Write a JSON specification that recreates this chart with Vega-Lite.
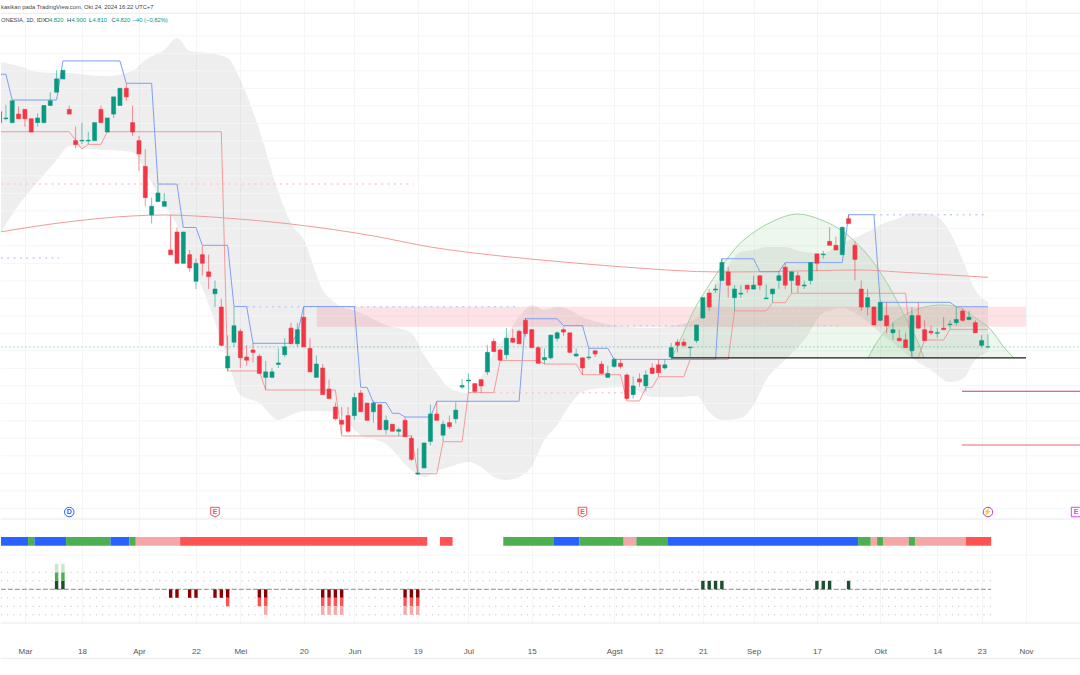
{"$schema":"https://vega.github.io/schema/vega-lite/v6.json","padding":0,"spacing":0,"background":"white","config":{"view":{"stroke":null},"font":"Liberation Sans","axisY":{"disable":true},"scale":{"continuousPadding":0}},
"datasets":{"candles":[
{"i":-1,"o":6255,"h":6325,"l":6255,"c":6325},{"i":0,"o":6280,"h":6370,"l":6270,"c":6285},{"i":1,"o":6255,"h":6395,"l":6255,"c":6395},{"i":2,"o":6310,"h":6360,"l":6280,"c":6280},{"i":3,"o":6340,"h":6340,"l":6230,"c":6280},{"i":4,"o":6280,"h":6280,"l":6195,"c":6195},{"i":5,"o":6255,"h":6315,"l":6230,"c":6285},{"i":6,"o":6255,"h":6365,"l":6255,"c":6365},{"i":7,"o":6365,"h":6450,"l":6365,"c":6395},{"i":8,"o":6450,"h":6590,"l":6450,"c":6535},{"i":9,"o":6535,"h":6590,"l":6535,"c":6590},{"i":10,"o":6340,"h":6365,"l":6310,"c":6310},{"i":11,"o":6140,"h":6230,"l":6090,"c":6115},{"i":12,"o":6138,"h":6255,"l":6118,"c":6142},{"i":13,"o":6138,"h":6197,"l":6118,"c":6142},{"i":14,"o":6140,"h":6255,"l":6140,"c":6255},{"i":15,"o":6340,"h":6365,"l":6255,"c":6255},{"i":16,"o":6195,"h":6285,"l":6195,"c":6285},{"i":17,"o":6310,"h":6420,"l":6285,"c":6420},{"i":18,"o":6365,"h":6475,"l":6365,"c":6475},{"i":19,"o":6475,"h":6505,"l":6395,"c":6420},{"i":20,"o":6255,"h":6365,"l":6170,"c":6195},{"i":21,"o":6140,"h":6170,"l":5945,"c":6055},{"i":22,"o":5975,"h":6085,"l":5720,"c":5775},{"i":23,"o":5665,"h":5775,"l":5610,"c":5720},{"i":24,"o":5750,"h":5860,"l":5750,"c":5805},{"i":25,"o":5720,"h":5805,"l":5720,"c":5750},{"i":26,"o":5440,"h":5665,"l":5410,"c":5410},{"i":27,"o":5555,"h":5585,"l":5355,"c":5355},{"i":28,"o":5355,"h":5555,"l":5355,"c":5555},{"i":29,"o":5410,"h":5440,"l":5300,"c":5325},{"i":30,"o":5240,"h":5385,"l":5190,"c":5355},{"i":31,"o":5410,"h":5465,"l":5275,"c":5355},{"i":32,"o":5300,"h":5410,"l":5190,"c":5270},{"i":33,"o":5160,"h":5245,"l":5075,"c":5190},{"i":34,"o":5075,"h":5130,"l":4825,"c":4830},{"i":35,"o":4685,"h":4895,"l":4665,"c":4760},{"i":36,"o":4850,"h":5075,"l":4820,"c":4955},{"i":37,"o":4920,"h":4935,"l":4685,"c":4750},{"i":38,"o":4755,"h":4830,"l":4700,"c":4735},{"i":39,"o":4800,"h":4845,"l":4720,"c":4785},{"i":40,"o":4760,"h":4775,"l":4650,"c":4650},{"i":41,"o":4625,"h":4730,"l":4545,"c":4660},{"i":42,"o":4625,"h":4685,"l":4625,"c":4660},{"i":43,"o":4708,"h":4810,"l":4685,"c":4717},{"i":44,"o":4770,"h":4875,"l":4755,"c":4820},{"i":45,"o":4940,"h":4975,"l":4840,"c":4840},{"i":46,"o":4840,"h":4975,"l":4820,"c":4930},{"i":47,"o":5010,"h":5075,"l":4820,"c":4820},{"i":48,"o":4810,"h":4875,"l":4660,"c":4660},{"i":49,"o":4625,"h":4765,"l":4625,"c":4710},{"i":50,"o":4685,"h":4710,"l":4515,"c":4515},{"i":51,"o":4550,"h":4610,"l":4485,"c":4490},{"i":52,"o":4435,"h":4465,"l":4350,"c":4360},{"i":53,"o":4350,"h":4435,"l":4265,"c":4325},{"i":54,"o":4380,"h":4435,"l":4270,"c":4280},{"i":55,"o":4380,"h":4525,"l":4350,"c":4495},{"i":56,"o":4525,"h":4545,"l":4405,"c":4405},{"i":57,"o":4460,"h":4460,"l":4350,"c":4350},{"i":58,"o":4405,"h":4475,"l":4335,"c":4460},{"i":59,"o":4450,"h":4450,"l":4290,"c":4290},{"i":60,"o":4290,"h":4380,"l":4260,"c":4350},{"i":61,"o":4325,"h":4325,"l":4280,"c":4280},{"i":62,"o":4280,"h":4305,"l":4250,"c":4290},{"i":63,"o":4350,"h":4370,"l":4245,"c":4245},{"i":64,"o":4235,"h":4255,"l":4090,"c":4100},{"i":65,"o":4006,"h":4170,"l":4000,"c":4013},{"i":66,"o":4045,"h":4205,"l":4045,"c":4205},{"i":67,"o":4215,"h":4450,"l":4190,"c":4390},{"i":68,"o":4390,"h":4470,"l":4350,"c":4350},{"i":69,"o":4255,"h":4350,"l":4215,"c":4325},{"i":70,"o":4335,"h":4380,"l":4295,"c":4310},{"i":71,"o":4360,"h":4465,"l":4330,"c":4415},{"i":72,"o":4563,"h":4615,"l":4550,"c":4572},{"i":73,"o":4602,"h":4650,"l":4525,"c":4608},{"i":74,"o":4585,"h":4585,"l":4525,"c":4535},{"i":75,"o":4610,"h":4610,"l":4525,"c":4570},{"i":76,"o":4660,"h":4830,"l":4640,"c":4785},{"i":77,"o":4855,"h":4875,"l":4790,"c":4790},{"i":78,"o":4800,"h":4810,"l":4730,"c":4735},{"i":79,"o":4770,"h":4940,"l":4740,"c":4875},{"i":80,"o":4875,"h":4935,"l":4845,"c":4850},{"i":81,"o":4920,"h":4930,"l":4840,"c":4840},{"i":82,"o":4990,"h":5005,"l":4885,"c":4905},{"i":83,"o":4930,"h":4935,"l":4815,"c":4815},{"i":84,"o":4815,"h":4825,"l":4715,"c":4715},{"i":85,"o":4738,"h":4810,"l":4710,"c":4751},{"i":86,"o":4750,"h":4895,"l":4740,"c":4895},{"i":87,"o":4875,"h":4920,"l":4855,"c":4910},{"i":88,"o":4930,"h":4945,"l":4890,"c":4915},{"i":89,"o":4910,"h":4910,"l":4780,"c":4785},{"i":90,"o":4762,"h":4810,"l":4755,"c":4774},{"i":91,"o":4750,"h":4750,"l":4640,"c":4685},{"i":92,"o":4751,"h":4810,"l":4735,"c":4755},{"i":93,"o":4795,"h":4795,"l":4755,"c":4775},{"i":94,"o":4710,"h":4730,"l":4650,"c":4650},{"i":95,"o":4625,"h":4700,"l":4625,"c":4650},{"i":96,"o":4695,"h":4750,"l":4685,"c":4740},{"i":97,"o":4715,"h":4740,"l":4680,"c":4695},{"i":98,"o":4640,"h":4650,"l":4485,"c":4490},{"i":99,"o":4515,"h":4630,"l":4490,"c":4570},{"i":100,"o":4615,"h":4650,"l":4565,"c":4595},{"i":101,"o":4570,"h":4670,"l":4535,"c":4640},{"i":102,"o":4685,"h":4715,"l":4650,"c":4650},{"i":103,"o":4705,"h":4740,"l":4630,"c":4655},{"i":104,"o":4685,"h":4740,"l":4675,"c":4705},{"i":105,"o":4755,"h":4845,"l":4740,"c":4815},{"i":106,"o":4850,"h":4870,"l":4785,"c":4830},{"i":107,"o":4850,"h":4873,"l":4817,"c":4830},{"i":108,"o":4815,"h":4819,"l":4747,"c":4819},{"i":109,"o":4860,"h":4960,"l":4845,"c":4960},{"i":110,"o":5005,"h":5135,"l":5000,"c":5135},{"i":111,"o":5165,"h":5190,"l":5050,"c":5075},{"i":112,"o":5184,"h":5220,"l":5165,"c":5190},{"i":113,"o":5245,"h":5385,"l":5245,"c":5360},{"i":114,"o":5300,"h":5330,"l":5135,"c":5215},{"i":115,"o":5135,"h":5215,"l":5050,"c":5190},{"i":116,"o":5158,"h":5215,"l":5135,"c":5163},{"i":117,"o":5215,"h":5215,"l":5165,"c":5190},{"i":118,"o":5190,"h":5275,"l":5190,"c":5215},{"i":119,"o":5275,"h":5275,"l":5185,"c":5215},{"i":120,"o":5128,"h":5220,"l":5128,"c":5133},{"i":121,"o":5160,"h":5190,"l":5105,"c":5190},{"i":122,"o":5245,"h":5305,"l":5190,"c":5275},{"i":123,"o":5330,"h":5360,"l":5190,"c":5215},{"i":124,"o":5245,"h":5300,"l":5165,"c":5300},{"i":125,"o":5275,"h":5300,"l":5165,"c":5215},{"i":126,"o":5210,"h":5245,"l":5190,"c":5216},{"i":127,"o":5245,"h":5360,"l":5220,"c":5360},{"i":128,"o":5415,"h":5415,"l":5305,"c":5355},{"i":129,"o":5410,"h":5435,"l":5385,"c":5414},{"i":130,"o":5495,"h":5585,"l":5470,"c":5470},{"i":131,"o":5470,"h":5525,"l":5440,"c":5440},{"i":132,"o":5410,"h":5590,"l":5410,"c":5585},{"i":133,"o":5640,"h":5665,"l":5610,"c":5610},{"i":134,"o":5470,"h":5495,"l":5245,"c":5380},{"i":135,"o":5190,"h":5245,"l":5050,"c":5075},{"i":136,"o":5075,"h":5190,"l":5020,"c":5135},{"i":137,"o":5075,"h":5080,"l":4960,"c":4960},{"i":138,"o":4990,"h":5105,"l":4985,"c":5105},{"i":139,"o":5020,"h":5105,"l":4905,"c":4955},{"i":140,"o":4910,"h":4975,"l":4865,"c":4930},{"i":141,"o":4875,"h":4930,"l":4855,"c":4860},{"i":142,"o":4865,"h":4910,"l":4815,"c":4815},{"i":143,"o":4795,"h":5075,"l":4750,"c":5020},{"i":144,"o":5020,"h":5105,"l":4935,"c":4940},{"i":145,"o":4930,"h":4990,"l":4860,"c":4860},{"i":146,"o":4920,"h":4955,"l":4895,"c":4910},{"i":147,"o":4907,"h":4940,"l":4880,"c":4911},{"i":148,"o":4940,"h":5010,"l":4930,"c":4930},{"i":149,"o":4962,"h":4990,"l":4935,"c":4966},{"i":150,"o":4975,"h":5075,"l":4955,"c":4995},{"i":151,"o":5050,"h":5065,"l":4980,"c":4990},{"i":152,"o":4995,"h":5050,"l":4990,"c":5010},{"i":153,"o":4975,"h":4990,"l":4910,"c":4910},{"i":154,"o":4830,"h":4895,"l":4815,"c":4860},{"i":155,"o":4820,"h":4900,"l":4810,"c":4820}
]},
"vconcat":[
{"width":1080,"height":518,"layer":[
{"data":{"values":[
{"i":-1,"up":6643,"lo":5536},{"i":2,"up":6618,"lo":5728},{"i":5,"up":6579,"lo":5875},{"i":8,"up":6573,"lo":6016},{"i":10,"up":6573,"lo":6106},{"i":13,"up":6560,"lo":6086},{"i":16,"up":6554,"lo":6080},{"i":20,"up":6586,"lo":6067},{"i":22,"up":6656,"lo":5939},{"i":25,"up":6720,"lo":5728},{"i":27,"up":6797,"lo":5600},{"i":29,"up":6714,"lo":5389},{"i":32,"up":6701,"lo":5094},{"i":35,"up":6669,"lo":4736},{"i":37,"up":6528,"lo":4512},{"i":40,"up":6208,"lo":4461},{"i":43,"up":5811,"lo":4352},{"i":45,"up":5613,"lo":4384},{"i":47,"up":5504,"lo":4410},{"i":50,"up":5184,"lo":4410},{"i":52,"up":5101,"lo":4403},{"i":56,"up":5037,"lo":4256},{"i":60,"up":4960,"lo":4198},{"i":64,"up":4909,"lo":4032},{"i":66,"up":4768,"lo":3987},{"i":68,"up":4653,"lo":4026},{"i":70,"up":4557,"lo":4051},{"i":73,"up":4525,"lo":4083},{"i":75,"up":4627,"lo":4051},{"i":77,"up":4787,"lo":3987},{"i":79,"up":4896,"lo":3968},{"i":81,"up":5011,"lo":3987},{"i":83,"up":5088,"lo":4058},{"i":85,"up":5056,"lo":4224},{"i":87,"up":5075,"lo":4320},{"i":89,"up":5056,"lo":4448},{"i":91,"up":5011,"lo":4531},{"i":94,"up":4973,"lo":4557},{"i":98,"up":4947,"lo":4563},{"i":102,"up":4941,"lo":4499},{"i":106,"up":4960,"lo":4499},{"i":109,"up":5005,"lo":4506},{"i":111,"up":5152,"lo":4403},{"i":113,"up":5280,"lo":4352},{"i":116,"up":5427,"lo":4365},{"i":118,"up":5440,"lo":4448},{"i":120,"up":5459,"lo":4608},{"i":123,"up":5459,"lo":4736},{"i":126,"up":5427,"lo":4864},{"i":129,"up":5421,"lo":5037},{"i":132,"up":5485,"lo":5069},{"i":135,"up":5536,"lo":5011},{"i":138,"up":5600,"lo":4909},{"i":141,"up":5645,"lo":4813},{"i":143,"up":5677,"lo":4749},{"i":146,"up":5670,"lo":4672},{"i":149,"up":5555,"lo":4595},{"i":151,"up":5376,"lo":4614},{"i":153,"up":5184,"lo":4736},{"i":155,"up":5107,"lo":4787}]},
"mark":{"type":"area","color":"#787b86","opacity":0.13,"interpolate":"monotone","clip":true},
"encoding":{"x":{"field":"i","type":"quantitative","scale":{"domain":[-0.773,169.68],"nice":false,"zero":false,"padding":0},"axis":{"title":null,"values":[3,12,21,30,37,47,55,65,73,83,96,103,110,118,128,138,147,154,161],"labels":false,"ticks":false,"domain":false,"grid":true,"gridColor":"#f4f5f6","gridWidth":1}},"y":{"field":"up","type":"quantitative","scale":{"domain":[3724.8,7040],"nice":false,"zero":false}},"y2":{"field":"lo"}}},
{"data":{"values":[{"p":3787},{"p":3899},{"p":4011},{"p":4123},{"p":4235},{"p":4347},{"p":4459},{"p":4571},{"p":4683},{"p":4795},{"p":4907},{"p":5019},{"p":5131},{"p":5243},{"p":5355},{"p":5467},{"p":5579},{"p":5691},{"p":5803},{"p":5915},{"p":6027},{"p":6139},{"p":6251},{"p":6363},{"p":6475},{"p":6587},{"p":6699},{"p":6811}]},"mark":{"type":"rule","color":"#f4f5f6","strokeWidth":1,"clip":true},"encoding":{"y":{"field":"p","type":"quantitative"}}},
{"data":{"values":[{"a":49.05,"b":161,"top":5077,"bot":4949}]},"mark":{"type":"rect","color":"#f23645","opacity":0.14,"clip":true},"encoding":{"x":{"field":"a","type":"quantitative"},"x2":{"field":"b"},"y":{"field":"top","type":"quantitative"},"y2":{"field":"bot"}}},
{"data":{"values":[{"i":105,"p":4749},{"i":106.3,"p":4853},{"i":108.6,"p":5056},{"i":110.2,"p":5165},{"i":112.9,"p":5331},{"i":115.6,"p":5472},{"i":118.1,"p":5555},{"i":120.8,"p":5619},{"i":125,"p":5670},{"i":128.7,"p":5632},{"i":131.3,"p":5581},{"i":133.9,"p":5498},{"i":137,"p":5357},{"i":139.7,"p":5184},{"i":142.4,"p":4973},{"i":144,"p":4845},{"i":144.9,"p":4749}]},"mark":{"type":"area","interpolate":"monotone","color":"#4caf50","opacity":0.1,"line":false,"clip":true},"encoding":{"x":{"field":"i","type":"quantitative"},"y":{"field":"p","type":"quantitative"},"y2":{"datum":4749}}},
{"data":{"values":[{"i":105,"p":4749},{"i":106.3,"p":4853},{"i":108.6,"p":5056},{"i":110.2,"p":5165},{"i":112.9,"p":5331},{"i":115.6,"p":5472},{"i":118.1,"p":5555},{"i":120.8,"p":5619},{"i":125,"p":5670},{"i":128.7,"p":5632},{"i":131.3,"p":5581},{"i":133.9,"p":5498},{"i":137,"p":5357},{"i":139.7,"p":5184},{"i":142.4,"p":4973},{"i":144,"p":4845},{"i":144.9,"p":4749}]},"mark":{"type":"line","interpolate":"monotone","color":"#9fd3a2","strokeWidth":1,"clip":true},"encoding":{"x":{"field":"i","type":"quantitative"},"y":{"field":"p","type":"quantitative"}}},
{"data":{"values":[{"i":136.1,"p":4749},{"i":137,"p":4819},{"i":139.7,"p":4960},{"i":142.4,"p":5037},{"i":145,"p":5075},{"i":147.6,"p":5088},{"i":150.3,"p":5075},{"i":152.8,"p":5011},{"i":155.5,"p":4928},{"i":157.5,"p":4819},{"i":159.1,"p":4749}]},"mark":{"type":"area","interpolate":"monotone","color":"#4caf50","opacity":0.1,"clip":true},"encoding":{"x":{"field":"i","type":"quantitative"},"y":{"field":"p","type":"quantitative"},"y2":{"datum":4749}}},
{"data":{"values":[{"i":136.1,"p":4749},{"i":137,"p":4819},{"i":139.7,"p":4960},{"i":142.4,"p":5037},{"i":145,"p":5075},{"i":147.6,"p":5088},{"i":150.3,"p":5075},{"i":152.8,"p":5011},{"i":155.5,"p":4928},{"i":157.5,"p":4819},{"i":159.1,"p":4749}]},"mark":{"type":"line","interpolate":"monotone","color":"#9fd3a2","strokeWidth":1,"clip":true},"encoding":{"x":{"field":"i","type":"quantitative"},"y":{"field":"p","type":"quantitative"}}},
{"data":{"values":[{"i":-1,"p":5555},{"i":10,"p":5621},{"i":20,"p":5658},{"i":25,"p":5664},{"i":34,"p":5647},{"i":42,"p":5619},{"i":45,"p":5606},{"i":58,"p":5530},{"i":67,"p":5459},{"i":78,"p":5402},{"i":88,"p":5363},{"i":97,"p":5333},{"i":113,"p":5299},{"i":119,"p":5301},{"i":135,"p":5312},{"i":141,"p":5299},{"i":155,"p":5265}]},"mark":{"type":"line","color":"#f29a9a","strokeWidth":1,"interpolate":"monotone","clip":true},"encoding":{"x":{"field":"i","type":"quantitative"},"y":{"field":"p","type":"quantitative"}}},
{"data":{"values":[{"a":-0.8,"b":8.4,"p":5389,"s":"b"},{"a":38,"b":81,"p":5077,"s":"b"},{"a":88,"b":132,"p":4956,"s":"b"},{"a":137,"b":155,"p":5666,"s":"b"},{"a":-0.8,"b":64.3,"p":5862,"s":"r"},{"a":77,"b":98,"p":4527,"s":"r"},{"a":120,"b":155,"p":5050,"s":"r"}]},"mark":{"type":"rule","strokeWidth":1.5,"strokeDash":[2,4.34],"clip":true},"encoding":{"x":{"field":"a","type":"quantitative"},"x2":{"field":"b"},"y":{"field":"p","type":"quantitative"},"color":{"field":"s","type":"nominal","legend":null,"scale":{"domain":["b","r"],"range":["#c3cff8","#fbcaca"]}}}},
{"data":{"values":[{"i":-1,"p":6197},{"i":10,"p":6197},{"i":11,"p":6142},{"i":12,"p":6086},{"i":13,"p":6116},{"i":15,"p":6116},{"i":16,"p":6197},{"i":34,"p":6197},{"i":35,"p":4666},{"i":40,"p":4666},{"i":41,"p":4544},{"i":52,"p":4544},{"i":53,"p":4250},{"i":64,"p":4250},{"i":65,"p":4008},{"i":68,"p":4008},{"i":69,"p":4213},{"i":72,"p":4213},{"i":73,"p":4527},{"i":77,"p":4527},{"i":78,"p":4732},{"i":84,"p":4732},{"i":85,"p":4710},{"i":90,"p":4710},{"i":91,"p":4642},{"i":97,"p":4642},{"i":98,"p":4474},{"i":100,"p":4474},{"i":101,"p":4561},{"i":102,"p":4561},{"i":103,"p":4629},{"i":107,"p":4629},{"i":108,"p":4740},{"i":114,"p":4740},{"i":115,"p":5050},{"i":120,"p":5050},{"i":121,"p":5103},{"i":123,"p":5103},{"i":124,"p":5163},{"i":142,"p":5163},{"i":143,"p":4751},{"i":144,"p":4751},{"i":145,"p":4864},{"i":148,"p":4864},{"i":149,"p":4932},{"i":155,"p":4932}]},"mark":{"type":"line","color":"#f49a9a","strokeWidth":1,"clip":true},"encoding":{"x":{"field":"i","type":"quantitative"},"y":{"field":"p","type":"quantitative"}}},
{"data":{"values":[{"i":-1,"p":6565},{"i":0,"p":6565},{"i":1,"p":6400},{"i":8,"p":6400},{"i":9,"p":6650},{"i":18,"p":6650},{"i":19,"p":6507},{"i":23,"p":6507},{"i":24,"p":5862},{"i":27,"p":5862},{"i":28,"p":5584},{"i":30,"p":5584},{"i":31,"p":5470},{"i":35,"p":5470},{"i":36,"p":5078},{"i":38,"p":5078},{"i":39,"p":4843},{"i":45,"p":4843},{"i":46,"p":4902},{"i":47,"p":5078},{"i":55,"p":5078},{"i":56,"p":4561},{"i":57,"p":4561},{"i":58,"p":4463},{"i":60,"p":4463},{"i":61,"p":4395},{"i":62,"p":4395},{"i":63,"p":4371},{"i":67,"p":4371},{"i":68,"p":4472},{"i":81,"p":4472},{"i":82,"p":5000},{"i":87,"p":5000},{"i":88,"p":4956},{"i":91,"p":4956},{"i":92,"p":4811},{"i":95,"p":4811},{"i":96,"p":4740},{"i":112,"p":4740},{"i":113,"p":5384},{"i":118,"p":5384},{"i":119,"p":5301},{"i":122,"p":5301},{"i":123,"p":5359},{"i":132,"p":5359},{"i":133,"p":5666},{"i":137,"p":5666},{"i":138,"p":5105},{"i":149,"p":5105},{"i":150,"p":5077},{"i":155,"p":5077}]},"mark":{"type":"line","color":"#7f9ff2","strokeWidth":1,"clip":true},"encoding":{"x":{"field":"i","type":"quantitative"},"y":{"field":"p","type":"quantitative"}}},
{"data":{"values":[{"a":-0.8,"b":169.7,"p":4820}]},"mark":{"type":"rule","color":"#089981","opacity":0.35,"strokeWidth":1,"strokeDash":[2,2],"clip":true},"encoding":{"x":{"field":"a","type":"quantitative"},"x2":{"field":"b"},"y":{"field":"p","type":"quantitative"}}},
{"data":{"values":[{"a":105,"b":161,"p":4749,"k":"black"},{"a":150.9,"b":169.7,"p":4536,"k":"crimson"},{"a":150.9,"b":169.7,"p":4192,"k":"coral"},{"a":-0.8,"b":169.7,"p":6955,"k":"sep"}]},"mark":{"type":"rule","strokeWidth":1.2,"clip":true},"encoding":{"x":{"field":"a","type":"quantitative"},"x2":{"field":"b"},"y":{"field":"p","type":"quantitative"},"color":{"field":"k","type":"nominal","legend":null,"scale":{"domain":["black","crimson","coral","sep"],"range":["#1a1a1a","#d6394c","#e86a74","#eeeeee"]}}}},
{"data":{"name":"candles"},"mark":{"type":"rule","strokeWidth":1,"opacity":0.55,"clip":true},"encoding":{"x":{"field":"i","type":"quantitative"},"y":{"field":"l","type":"quantitative"},"y2":{"field":"h"},"color":{"condition":{"test":"datum.c>=datum.o","value":"#089981"},"value":"#f23645"}}},
{"data":{"name":"candles"},"mark":{"type":"bar","size":4,"strokeWidth":0.6,"clip":true},"encoding":{"x":{"field":"i","type":"quantitative"},"y":{"field":"o","type":"quantitative"},"y2":{"field":"c"},"color":{"condition":{"test":"datum.c>=datum.o","value":"#089981"},"value":"#f23645"},"stroke":{"condition":{"test":"datum.c>=datum.o","value":"#089981"},"value":"#f23645"}}},
{"data":{"values":[{"i":10,"p":3763,"k":"D","t":"D"},{"i":33,"p":3763,"k":"E","t":"E"},{"i":91,"p":3763,"k":"E","t":"E"},{"i":155,"p":3763,"k":"S","t":"⚡"},{"i":168.9,"p":3763,"k":"N","t":"E"}]},"mark":{"type":"point","filled":false,"fill":"white","fillOpacity":1,"strokeWidth":1,"opacity":1,"size":90,"clip":true},"encoding":{"x":{"field":"i","type":"quantitative"},"y":{"field":"p","type":"quantitative"},"shape":{"field":"k","type":"nominal","legend":null,"scale":{"domain":["D","E","S","N"],"range":["circle","M-0.9,-1H0.9V0.55L0,1.05L-0.9,0.55Z","circle","square"]}},"stroke":{"field":"k","type":"nominal","legend":null,"scale":{"domain":["D","E","S","N"],"range":["#2962ff","#f7525f","#ab47bc","#e040fb"]}}}},
{"data":{"values":[{"i":10,"p":3763,"k":"D","t":"D"},{"i":33,"p":3763,"k":"E","t":"E"},{"i":91,"p":3763,"k":"E","t":"E"},{"i":155,"p":3763,"k":"S","t":"⚡"},{"i":168.9,"p":3763,"k":"N","t":"E"}]},"mark":{"type":"text","fontSize":7,"fontWeight":"bold","baseline":"middle","clip":true},"encoding":{"x":{"field":"i","type":"quantitative"},"y":{"field":"p","type":"quantitative"},"text":{"field":"t"},"color":{"field":"k","type":"nominal","legend":null,"scale":{"domain":["D","E","S","N"],"range":["#2962ff","#f7525f","#ab47bc","#e040fb"]}}}},
{"data":{"values":[{"i":-0.773,"p":6995,"t":"kasikan pada TradingView.com, Okt 24, 2024 16:22 UTC+7","k":"a"},{"i":-0.773,"p":6909,"t":"ONESIA, 1D, IDX","k":"a"},{"i":6.17,"p":6909,"t":"O","k":"a"},{"i":6.8,"p":6909,"t":"4.820","k":"g"},{"i":9.64,"p":6909,"t":"H","k":"a"},{"i":10.35,"p":6909,"t":"4.900","k":"g"},{"i":13.1,"p":6909,"t":"L","k":"a"},{"i":13.67,"p":6909,"t":"4.810","k":"g"},{"i":16.68,"p":6909,"t":"C","k":"a"},{"i":17.33,"p":6909,"t":"4.820","k":"g"},{"i":20,"p":6909,"t":"−40 (−0,82%)","k":"g"}]},"mark":{"type":"text","align":"left","baseline":"middle","fontSize":5.8,"font":"Liberation Sans"},"encoding":{"x":{"field":"i","type":"quantitative"},"y":{"field":"p","type":"quantitative"},"text":{"field":"t"},"color":{"field":"k","type":"nominal","legend":null,"scale":{"domain":["a","g"],"range":["#444444","#089981"]}}}}
],"resolve":{"scale":{"color":"independent","stroke":"independent"}}},
{"width":1080,"height":104,"layer":[
{"data":{"values":[{"a":-1.5,"b":3.5,"k":"B"},{"a":3.5,"b":4.5,"k":"G"},{"a":4.5,"b":9.5,"k":"B"},{"a":9.5,"b":16.5,"k":"G"},{"a":16.5,"b":19.5,"k":"B"},{"a":19.5,"b":20.5,"k":"G"},{"a":20.5,"b":27.5,"k":"P"},{"a":27.5,"b":66.5,"k":"R"},{"a":68.5,"b":70.5,"k":"R"},{"a":78.5,"b":86.5,"k":"G"},{"a":86.5,"b":90.5,"k":"B"},{"a":90.5,"b":97.5,"k":"G"},{"a":97.5,"b":99.5,"k":"P"},{"a":99.5,"b":104.5,"k":"G"},{"a":104.5,"b":134.5,"k":"B"},{"a":134.5,"b":136.5,"k":"G"},{"a":136.5,"b":137.5,"k":"P"},{"a":137.5,"b":138.5,"k":"G"},{"a":138.5,"b":142.5,"k":"P"},{"a":142.5,"b":143.5,"k":"G"},{"a":143.5,"b":151.5,"k":"P"},{"a":151.5,"b":155.5,"k":"R"}]},"mark":{"type":"rect","clip":true},"encoding":{"x":{"field":"a","type":"quantitative","scale":{"domain":[-0.773,169.68],"nice":false,"zero":false,"padding":0},"axis":{"title":null,"values":[3,12,21,30,37,47,55,65,73,83,96,103,110,118,128,138,147,154,161],"labelExpr":"{'3':'Mar','12':'18','21':'Apr','30':'22','37':'Mei','47':'20','55':'Jun','65':'19','73':'Jul','83':'15','96':'Agst','103':'12','110':'21','118':'Sep','128':'17','138':'Okt','147':'14','154':'23','161':'Nov'}[''+datum.value]","labelFont":"Liberation Sans","labelFontSize":8,"labelColor":"#555555","labelPadding":24,"labelOverlap":false,"labelFlush":false,"ticks":false,"domain":false,"grid":true,"gridColor":"#f4f5f6"}},"x2":{"field":"b"},"y":{"datum":6.15,"type":"quantitative","scale":{"domain":[-3.965,8.27],"nice":false,"zero":false}},"y2":{"datum":5.13},"color":{"field":"k","type":"nominal","legend":null,"scale":{"domain":["B","G","P","R"],"range":["#2962ff","#4caf50","#f5a6a6","#ff5252"]}}}},
{"data":{"values":[{"a":-0.8,"b":169.7,"l":8.27},{"a":-0.8,"b":169.7,"l":-3.965},{"a":-0.8,"b":169.7,"l":-8.12}]},"mark":{"type":"rule","color":"#e9eaec","strokeWidth":1},"encoding":{"x":{"field":"a","type":"quantitative"},"x2":{"field":"b"},"y":{"field":"l","type":"quantitative"}}},
{"data":{"values":[{"a":-0.8,"b":169.7,"l":4.03}]},"mark":{"type":"rule","color":"#f4f5f6","strokeWidth":1,"clip":true},"encoding":{"x":{"field":"a","type":"quantitative"},"x2":{"field":"b"},"y":{"field":"l","type":"quantitative"}}},
{"data":{"values":[{"a":-0.8,"b":155.5,"l":2},{"a":-0.8,"b":155.5,"l":1},{"a":-0.8,"b":155.5,"l":-1},{"a":-0.8,"b":155.5,"l":-2},{"a":-0.8,"b":155.5,"l":-3}]},"mark":{"type":"rule","color":"#b9bbc0","strokeWidth":1,"strokeDash":[1,5.34],"clip":true},"encoding":{"x":{"field":"a","type":"quantitative"},"x2":{"field":"b"},"y":{"field":"l","type":"quantitative"}}},
{"data":{"values":[{"a":-0.8,"b":155.5,"l":0}]},"mark":{"type":"rule","color":"#8a8c90","strokeWidth":1,"strokeDash":[5,2],"clip":true},"encoding":{"x":{"field":"a","type":"quantitative"},"x2":{"field":"b"},"y":{"field":"l","type":"quantitative"}}},
{"data":{"values":[
{"i":8,"f":0,"t":1,"k":"g1"},{"i":8,"f":1,"t":2,"k":"g2"},{"i":8,"f":2,"t":3,"k":"g3"},{"i":9,"f":0,"t":1,"k":"g1"},{"i":9,"f":1,"t":2,"k":"g2"},{"i":9,"f":2,"t":3,"k":"g3"},
{"i":26,"f":0,"t":-1,"k":"r1"},{"i":27,"f":0,"t":-1,"k":"r1"},{"i":29,"f":0,"t":-1,"k":"r1"},{"i":30,"f":0,"t":-1,"k":"r1"},{"i":33,"f":0,"t":-1,"k":"r1"},{"i":34,"f":0,"t":-1,"k":"r1"},
{"i":35,"f":0,"t":-1,"k":"r1"},{"i":35,"f":-1,"t":-2,"k":"r2"},{"i":40,"f":0,"t":-1,"k":"r1"},{"i":40,"f":-1,"t":-2,"k":"r2"},
{"i":41,"f":0,"t":-1,"k":"r1"},{"i":41,"f":-1,"t":-2,"k":"r2"},{"i":41,"f":-2,"t":-3,"k":"r3"},
{"i":50,"f":0,"t":-1,"k":"r1"},{"i":50,"f":-1,"t":-2,"k":"r2"},{"i":50,"f":-2,"t":-3,"k":"r3"},
{"i":51,"f":0,"t":-1,"k":"r1"},{"i":51,"f":-1,"t":-2,"k":"r2"},{"i":51,"f":-2,"t":-3,"k":"r3"},
{"i":52,"f":0,"t":-1,"k":"r1"},{"i":52,"f":-1,"t":-2,"k":"r2"},{"i":52,"f":-2,"t":-3,"k":"r3"},
{"i":53,"f":0,"t":-1,"k":"r1"},{"i":53,"f":-1,"t":-2,"k":"r2"},{"i":53,"f":-2,"t":-3,"k":"r3"},
{"i":63,"f":0,"t":-1,"k":"r1"},{"i":63,"f":-1,"t":-2,"k":"r2"},{"i":63,"f":-2,"t":-3,"k":"r3"},
{"i":64,"f":0,"t":-1,"k":"r1"},{"i":64,"f":-1,"t":-2,"k":"r2"},{"i":64,"f":-2,"t":-3,"k":"r3"},
{"i":65,"f":0,"t":-1,"k":"r1"},{"i":65,"f":-1,"t":-2,"k":"r2"},{"i":65,"f":-2,"t":-3,"k":"r3"},
{"i":110,"f":0,"t":1,"k":"g1"},{"i":111,"f":0,"t":1,"k":"g1"},{"i":112,"f":0,"t":1,"k":"g1"},{"i":113,"f":0,"t":1,"k":"g1"},{"i":128,"f":0,"t":1,"k":"g1"},{"i":129,"f":0,"t":1,"k":"g1"},{"i":130,"f":0,"t":1,"k":"g1"},{"i":133,"f":0,"t":1,"k":"g1"}]},"mark":{"type":"bar","size":3.4,"clip":true},"encoding":{"x":{"field":"i","type":"quantitative"},"y":{"field":"f","type":"quantitative"},"y2":{"field":"t"},"color":{"field":"k","type":"nominal","legend":null,"scale":{"domain":["g1","g2","g3","r1","r2","r3"],"range":["#1b4d2e","#4caf50","#c8e6c9","#8b0000","#ff5252","#f5a9a9"]}}}}
],"resolve":{"scale":{"color":"independent"}}}
],"resolve":{"scale":{"color":"independent","x":"independent","y":"independent"}}}
